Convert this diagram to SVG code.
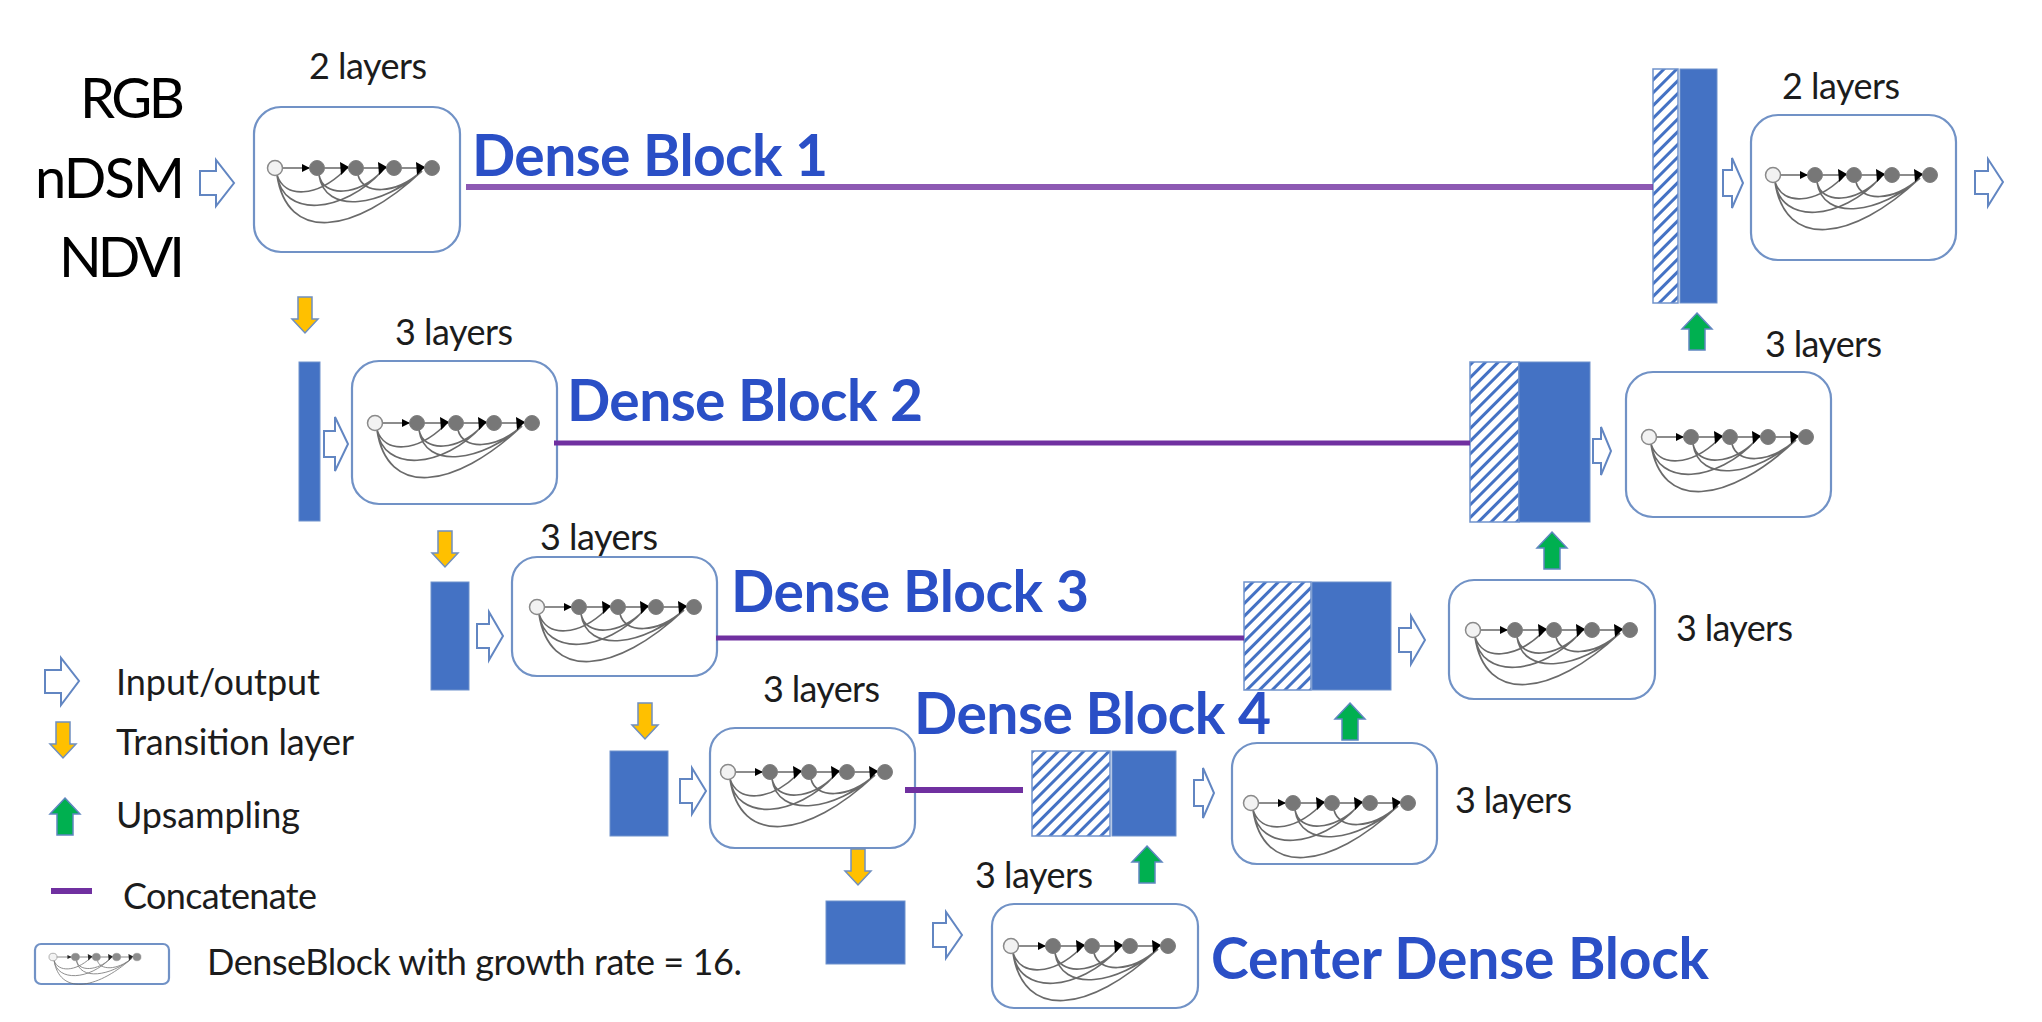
<svg xmlns="http://www.w3.org/2000/svg" xmlns:xlink="http://www.w3.org/1999/xlink" width="2042" height="1022" viewBox="0 0 2042 1022">
<style>
text{font-family:Lato,"Liberation Sans",sans-serif;fill:#1c1c1c}
.in{font-size:56px;fill:#000}
.lb{font-size:36px}
.ti{font-size:57px;font-weight:700;fill:#2a4fc6}
.bx{fill:#fff;stroke:#7192c6;stroke-width:2.2}
.bar{fill:#4472c4;stroke:#6f92cc;stroke-width:1}
.ha{fill:url(#hatch);stroke:#6f92cc;stroke-width:1.5}
.io{fill:#fff;stroke:#6286c2;stroke-width:2}
.cc{stroke:#7030a0;fill:none}
.gn{fill:#00b050;stroke:#5f86c0;stroke-width:1.5}
.or{fill:#ffc000;stroke:#6f8fc0;stroke-width:1.5}
.arc{fill:none;stroke:#6a6a6a;stroke-width:1.7}
.nd{fill:#777;stroke:#808080}
</style>
<defs>
<pattern id="hatch" width="9" height="9" patternUnits="userSpaceOnUse" patternTransform="rotate(45)"><rect width="9" height="9" fill="#fff"/><rect width="3" height="9" fill="#4472c4"/></pattern>
<path id="down" class="or" d="M-7,0H7V22H13L0,36L-13,22H-7Z"/>
<path id="up" class="gn" d="M0,0L15,16H8V37H-8V16H-15Z"/>
<g id="net">
<path d="M0,0H157" fill="none" stroke="#666" stroke-width="1.7"/>
<path class="arc" d="M2,7C10,31 42,29 69,3M2,7C8,50 68,46 107,3M2,7C12,74 78,68 147,3M44,7C48,30 84,28 107,3M44,7C50,48 108,38 147,3M83,7C88,27 120,27 147,3"/>
<path d="M27,-4L35,0L27,4Z"/><path d="M65,-6L74,-1L66,7Z"/><path d="M103,-6L112,-1L104,7Z"/><path d="M141,-6L150,-1L142,7Z"/>
<circle cx="0" cy="0" r="7.5" fill="#f2f2f2" stroke="#8a8a8a" stroke-width="1.5"/>
<circle class="nd" cx="42" cy="0" r="7.5"/><circle class="nd" cx="81" cy="0" r="7.5"/><circle class="nd" cx="119" cy="0" r="7.5"/><circle class="nd" cx="157" cy="0" r="7.5"/>
</g>
</defs>
<rect width="2042" height="1022" fill="#fff"/>
<g id="inputs">
<text class="in" x="80" y="118" textLength="105">RGB</text>
<text class="in" x="35" y="198" textLength="150">nDSM</text>
<text class="in" x="59" y="277" textLength="126">NDVI</text>
</g>
<g id="block-1"><rect class="bx" x="254" y="107" width="206" height="145" rx="27"/><use href="#net" x="275" y="168"/><text class="lb" x="309" y="79" textLength="118">2 layers</text><text class="ti" x="472" y="176" textLength="356">Dense Block 1</text></g>
<g id="block-2"><rect class="bx" x="352" y="361" width="205" height="143" rx="27"/><use href="#net" x="375" y="423"/><text class="lb" x="395" y="345" textLength="118">3 layers</text><text class="ti" x="567" y="421" textLength="356">Dense Block 2</text></g>
<g id="block-3"><rect class="bx" x="512" y="557" width="205" height="119" rx="25"/><use href="#net" x="537" y="607"/><text class="lb" x="540" y="550" textLength="118">3 layers</text><text class="ti" x="731" y="612" textLength="358">Dense Block 3</text></g>
<g id="block-4"><rect class="bx" x="710" y="728" width="205" height="120" rx="25"/><use href="#net" x="728" y="772"/><text class="lb" x="763" y="702" textLength="117">3 layers</text><text class="ti" x="914" y="734" textLength="357">Dense Block 4</text></g>
<g id="block-center"><rect class="bx" x="992" y="904" width="206" height="104" rx="22"/><use href="#net" x="1011" y="946"/><text class="lb" x="975" y="888" textLength="118">3 layers</text><text class="ti" x="1211" y="979" textLength="498">Center Dense Block</text></g>
<g id="up-block-4"><rect class="bx" x="1232" y="743" width="205" height="121" rx="25"/><use href="#net" x="1251" y="803"/><text class="lb" x="1455" y="813" textLength="117">3 layers</text></g>
<g id="up-block-3"><rect class="bx" x="1449" y="580" width="206" height="119" rx="25"/><use href="#net" x="1473" y="630"/><text class="lb" x="1676" y="641" textLength="117">3 layers</text></g>
<g id="up-block-2"><rect class="bx" x="1626" y="372" width="205" height="145" rx="27"/><use href="#net" x="1649" y="437"/><text class="lb" x="1765" y="357" textLength="117">3 layers</text></g>
<g id="up-block-1"><rect class="bx" x="1751" y="115" width="205" height="145" rx="27"/><use href="#net" x="1773" y="175"/><text class="lb" x="1782" y="99" textLength="118">2 layers</text></g>
<g id="bars">
<rect id="bar-2" class="bar" x="299" y="362" width="21" height="159"/>
<rect id="bar-3" class="bar" x="431" y="582" width="38" height="108"/>
<rect id="bar-4" class="bar" x="610" y="751" width="58" height="85"/>
<rect id="bar-5" class="bar" x="826" y="901" width="79" height="63"/>
<g id="merge-4"><rect class="ha" x="1032" y="751" width="78" height="85"/><rect class="bar" x="1112" y="751" width="64" height="85"/></g>
<g id="merge-3"><rect class="ha" x="1244" y="582" width="67" height="108"/><rect class="bar" x="1312" y="582" width="79" height="108"/></g>
<g id="merge-2"><rect class="ha" x="1470" y="362" width="49" height="160"/><rect class="bar" x="1519" y="362" width="71" height="160"/></g>
<g id="merge-1"><rect class="ha" x="1653" y="69" width="25" height="234"/><rect class="bar" x="1680" y="69" width="37" height="234"/></g>
</g>
<g id="connectors">
<path class="cc" stroke-width="6" stroke-opacity=".8" d="M466,187H1653"/>
<path class="cc" stroke-width="5" d="M554,443H1470"/>
<path class="cc" stroke-width="5" d="M716,638H1244"/>
<path class="cc" stroke-width="6" d="M905,790H1023"/>
<polygon class="io" points="200,171 216,171 216,160 234,183 216,206 216,195 200,195"/>
<polygon class="io" points="324,431 335,431 335,417 348,444 335,471 335,457 324,457"/>
<polygon class="io" points="477,624 489,624 489,612 503,636 489,660 489,648 477,648"/>
<polygon class="io" points="680,779 692,779 692,768 706,791 692,814 692,803 680,803"/>
<polygon class="io" points="933,923 946,923 946,912 962,935 946,958 946,947 933,947"/>
<polygon class="io" points="1194,780 1203,780 1203,768 1214,793 1203,818 1203,806 1194,806"/>
<polygon class="io" points="1399,628 1411,628 1411,616 1425,640 1411,664 1411,652 1399,652"/>
<polygon class="io" points="1593,439 1601,439 1601,427 1611,451 1601,475 1601,463 1593,463"/>
<polygon class="io" points="1723,170 1732,170 1732,158 1743,183 1732,208 1732,196 1723,196"/>
<polygon class="io" points="1975,171 1988,171 1988,159 2003,182 1988,206 1988,194 1975,194"/>
<use href="#down" x="305" y="297"/>
<use href="#down" x="445" y="531"/>
<use href="#down" x="645" y="703"/>
<use href="#down" x="858" y="849"/>
<use href="#up" x="1147" y="846"/>
<use href="#up" x="1350" y="703"/>
<use href="#up" x="1552" y="532"/>
<use href="#up" x="1697" y="313"/>
</g>
<g id="legend">
<polygon class="io" points="45,670 61,670 61,658 79,681 61,705 61,693 45,693"/>
<text class="lb" x="116" y="695" textLength="204">Input/output</text>
<use href="#down" x="63" y="722"/>
<text class="lb" x="116" y="755" textLength="238">Transition layer</text>
<use href="#up" x="65" y="798"/>
<text class="lb" x="116" y="828" textLength="184">Upsampling</text>
<path class="cc" stroke-width="6" d="M51,891H92"/>
<text class="lb" x="123" y="909" textLength="194">Concatenate</text>
<rect class="bx" x="35" y="944" width="134" height="40" rx="6"/>
<use href="#net" transform="translate(53,957) scale(.535,.5)" opacity=".85"/>
<text class="lb" x="207" y="975" textLength="535">DenseBlock with growth rate = 16.</text>
</g>
</svg>
